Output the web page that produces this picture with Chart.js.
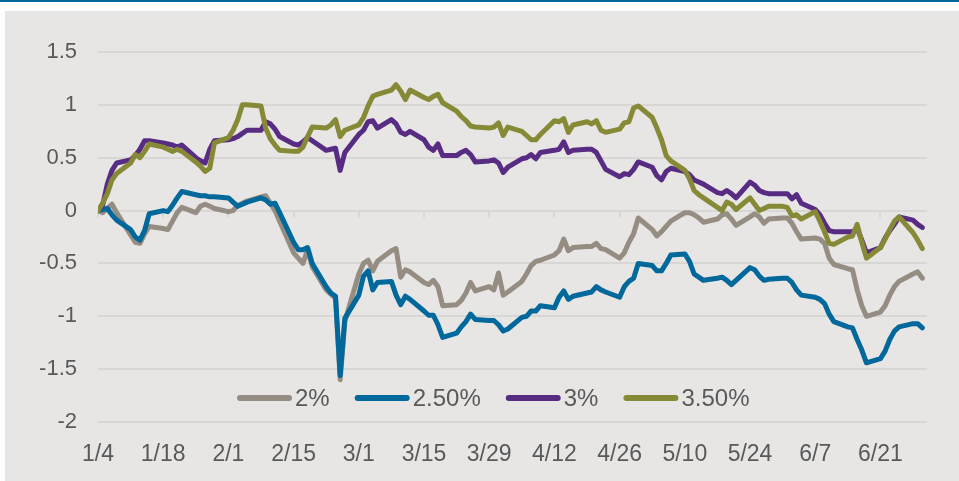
<!DOCTYPE html>
<html>
<head>
<meta charset="utf-8">
<script src="https://cdn.jsdelivr.net/npm/chart.js@4"></script>
<style>
  html, body { margin: 0; padding: 0; background: #ffffff; }
  body { width: 959px; height: 481px; position: relative; overflow: hidden; }
  #topbar { position: absolute; left: 0; top: 0; width: 959px; height: 2px; background: #00689a; }
  #wrap { position: absolute; left: 5px; top: 11px; width: 954px; height: 470px; background: #e7e6e5; }
</style>
</head>
<body>
<div id="topbar"></div>
<div id="wrap"><canvas id="chart"></canvas></div>
<script>
// calendar days since 1/4 (business days only)
const days = [
  0, 1, 2, 3, 4, 7, 8, 9, 10, 11, 14, 15, 16, 17, 18, 21, 22, 23, 24, 25,
  28, 29, 30, 31, 32, 35, 36, 37, 38, 39, 42, 43, 44, 45, 46, 49, 50, 51, 52, 53,
  56, 57, 58, 59, 60, 63, 64, 65, 66, 67, 70, 71, 72, 73, 74, 77, 78, 79, 80, 81,
  84, 85, 86, 87, 88, 91, 92, 93, 94, 95, 98, 99, 100, 101, 102, 105, 106, 107, 108, 109,
  112, 113, 114, 115, 116, 119, 120, 121, 122, 123, 126, 127, 128, 129, 130, 133, 134, 135, 136, 137,
  140, 141, 142, 143, 144, 147, 148, 149, 150, 151, 154, 155, 156, 157, 158, 161, 162, 163, 164, 165,
  168, 169, 170, 171, 172, 175, 176, 177
];

const tickLabels = ['1/4', '1/18', '2/1', '2/15', '3/1', '3/15', '3/29', '4/12', '4/26', '5/10', '5/24', '6/7', '6/21'];
const seriesNames = ['2%', '2.50%', '3%', '3.50%'];

const s2 = [
  0, -0.02, 0.02, 0.06, -0.02, -0.23, -0.30, -0.31, -0.22, -0.15, -0.17, -0.18, -0.10, -0.02, 0.03, -0.02, 0.04, 0.06, 0.04, 0.02,
  -0.01, 0, 0.05, 0.07, 0.09, 0.13, 0.14, 0.07, 0.0, -0.10, -0.40, -0.45, -0.50, -0.37, -0.53, -0.75, -0.79, -0.83, -1.60, -1.05,
  -0.60, -0.50, -0.47, -0.57, -0.48, -0.38, -0.36, -0.63, -0.56, -0.58, -0.68, -0.70, -0.66, -0.72, -0.90, -0.89, -0.85, -0.78, -0.68, -0.76,
  -0.72, -0.75, -0.59, -0.80, -0.77, -0.67, -0.60, -0.52, -0.48, -0.47, -0.42, -0.38, -0.27, -0.38, -0.35, -0.34, -0.34, -0.31, -0.36, -0.37,
  -0.45, -0.40, -0.30, -0.22, -0.07, -0.18, -0.24, -0.20, -0.15, -0.10, -0.02, -0.02, -0.04, -0.07, -0.11, -0.08, -0.04, -0.03, -0.08, -0.14,
  -0.06, -0.03, -0.06, -0.12, -0.08, -0.07, -0.07, -0.12, -0.20, -0.27, -0.26, -0.27, -0.31, -0.45, -0.51, -0.55, -0.56, -0.75, -0.90, -1.00,
  -0.96, -0.90, -0.80, -0.72, -0.67, -0.60, -0.58, -0.64
];

const s25 = [
  0, 0.01, 0.02, -0.04, -0.09, -0.18, -0.25, -0.28, -0.19, -0.03, 0, -0.01, 0.05, 0.12, 0.18, 0.15, 0.14, 0.14, 0.13, 0.13,
  0.12, 0.08, 0.04, 0.06, 0.08, 0.12, 0.10, 0.06, 0.07, -0.02, -0.30, -0.37, -0.37, -0.35, -0.50, -0.72, -0.78, -0.81, -1.56, -1.02,
  -0.80, -0.62, -0.57, -0.75, -0.68, -0.67, -0.80, -0.89, -0.81, -0.84, -0.95, -0.99, -0.99, -1.08, -1.20, -1.16, -1.10, -1.05, -0.98, -1.03,
  -1.04, -1.04, -1.08, -1.14, -1.12, -1.01, -1.00, -0.95, -0.95, -0.90, -0.92, -0.82, -0.76, -0.84, -0.81, -0.78, -0.77, -0.72, -0.75, -0.77,
  -0.82, -0.72, -0.67, -0.64, -0.50, -0.52, -0.57, -0.57, -0.50, -0.42, -0.41, -0.48, -0.60, -0.63, -0.66, -0.64, -0.63, -0.66, -0.70, -0.66,
  -0.54, -0.56, -0.62, -0.66, -0.65, -0.64, -0.64, -0.68, -0.75, -0.80, -0.82, -0.84, -0.88, -0.98, -1.05, -1.10, -1.11, -1.22, -1.32, -1.44,
  -1.40, -1.33, -1.22, -1.14, -1.10, -1.07, -1.07, -1.11
];

const s3 = [
  0, 0.05, 0.25, 0.38, 0.45, 0.48, 0.52, 0.58, 0.66, 0.66, 0.64, 0.63, 0.62, 0.60, 0.62, 0.50, 0.47, 0.45, 0.58, 0.66,
  0.67, 0.68, 0.70, 0.73, 0.76, 0.76, 0.84, 0.82, 0.77, 0.70, 0.63, 0.62, 0.65, 0.69, 0.66, 0.57, 0.58, 0.59, 0.38, 0.55,
  0.72, 0.76, 0.84, 0.85, 0.78, 0.86, 0.82, 0.74, 0.72, 0.75, 0.67, 0.60, 0.57, 0.63, 0.52, 0.52, 0.55, 0.57, 0.53, 0.46,
  0.47, 0.48, 0.45, 0.36, 0.41, 0.49, 0.50, 0.53, 0.49, 0.55, 0.57, 0.58, 0.65, 0.55, 0.57, 0.58, 0.58, 0.55, 0.47, 0.39,
  0.32, 0.35, 0.34, 0.39, 0.46, 0.41, 0.33, 0.29, 0.37, 0.40, 0.37, 0.34, 0.29, 0.27, 0.25, 0.17, 0.16, 0.19, 0.16, 0.12,
  0.27, 0.24, 0.19, 0.17, 0.16, 0.16, 0.16, 0.11, 0.15, 0.07, 0.01, -0.04, -0.12, -0.19, -0.20, -0.20, -0.20, -0.17, -0.28, -0.40,
  -0.35, -0.26, -0.19, -0.13, -0.06, -0.09, -0.13, -0.16
];

const s35 = [
  0, 0.07, 0.16, 0.29, 0.35, 0.45, 0.53, 0.50, 0.56, 0.63, 0.60, 0.58, 0.56, 0.58, 0.56, 0.46, 0.42, 0.37, 0.40, 0.64,
  0.69, 0.76, 0.86, 1.00, 1.00, 0.99, 0.78, 0.68, 0.62, 0.57, 0.56, 0.56, 0.60, 0.70, 0.79, 0.78, 0.81, 0.86, 0.70, 0.76,
  0.81, 0.88, 0.99, 1.08, 1.10, 1.14, 1.19, 1.13, 1.05, 1.14, 1.07, 1.05, 1.08, 1.10, 1.02, 0.94, 0.89, 0.85, 0.80, 0.79,
  0.78, 0.79, 0.83, 0.71, 0.79, 0.75, 0.71, 0.67, 0.67, 0.72, 0.85, 0.84, 0.87, 0.74, 0.81, 0.84, 0.82, 0.85, 0.76, 0.74,
  0.77, 0.83, 0.84, 0.97, 0.99, 0.88, 0.78, 0.67, 0.52, 0.47, 0.38, 0.30, 0.19, 0.15, 0.12, 0.03, 0.0, 0.08, 0.06, 0.01,
  0.12, 0.06, 0.0, 0.02, 0.04, 0.04, 0.03, -0.05, -0.04, -0.08, -0.01, -0.10, -0.20, -0.31, -0.32, -0.25, -0.24, -0.13, -0.30, -0.45,
  -0.35, -0.27, -0.18, -0.10, -0.06, -0.21, -0.28, -0.36
];

const colors = ['#958c82', '#00689a', '#582c83', '#868a36'];
const gridColor = '#d8d7d6';
const textColor = '#595959';
const fontFamily = '"Liberation Sans", Arial, sans-serif';

function toPoints(values) {
  return values.map((v, i) => ({ x: days[i], y: v }));
}

const allSeries = [s2, s25, s3, s35];
const datasets = allSeries.map((vals, i) => ({
  label: seriesNames[i],
  data: toPoints(vals),
  borderColor: colors[i],
  backgroundColor: colors[i],
  borderWidth: 5,
  borderJoinStyle: 'round',
  borderCapStyle: 'round',
  pointRadius: 0,
  tension: 0,
  order: allSeries.length - i
}));

// small tick marks hanging below the zero line
const zeroTicks = {
  id: 'zeroTicks',
  beforeDatasetsDraw(chart) {
    const x = chart.scales.x;
    const y0 = chart.scales.y.getPixelForValue(0);
    const ctx = chart.ctx;
    ctx.save();
    ctx.strokeStyle = gridColor;
    ctx.lineWidth = 2;
    x.ticks.forEach(t => {
      const px = Math.round(x.getPixelForValue(t.value));
      ctx.beginPath();
      ctx.moveTo(px, y0);
      ctx.lineTo(px, y0 + 7);
      ctx.stroke();
    });
    ctx.restore();
  }
};

// legend drawn inside the plot, like the original
const innerLegend = {
  id: 'innerLegend',
  afterDraw(chart) {
    const ctx = chart.ctx;
    const y = chart.chartArea.bottom - 24;
    let x = 232;
    ctx.save();
    ctx.font = '24px ' + fontFamily;
    ctx.textBaseline = 'middle';
    ctx.textAlign = 'left';
    chart.data.datasets.forEach(ds => {
      ctx.strokeStyle = ds.borderColor;
      ctx.lineWidth = 6;
      ctx.lineCap = 'round';
      ctx.beginPath();
      ctx.moveTo(x + 3, y);
      ctx.lineTo(x + 52, y);
      ctx.stroke();
      x += 58;
      ctx.fillStyle = textColor;
      ctx.fillText(ds.label, x, y + 1);
      x += ctx.measureText(ds.label).width + 25;
    });
    ctx.restore();
  }
};

new Chart(document.getElementById('chart'), {
  type: 'line',
  data: { datasets: datasets },
  options: {
    responsive: true,
    maintainAspectRatio: false,
    animation: false,
    layout: { padding: { top: 41, right: 32, left: 0, bottom: 0 } },
    plugins: {
      legend: { display: false },
      tooltip: { enabled: false }
    },
    scales: {
      x: {
        type: 'linear',
        min: 0,
        max: 178,
        grid: { display: false },
        border: { display: false },
        ticks: {
          stepSize: 14,
          includeBounds: false,
          autoSkip: false,
          maxRotation: 0,
          padding: 11,
          color: textColor,
          font: { size: 23, family: fontFamily },
          callback: v => tickLabels[v / 14] || ''
        },
        afterFit: s => { s.height = 59; }
      },
      y: {
        min: -2,
        max: 1.5,
        grid: { color: gridColor, lineWidth: 2, drawTicks: false },
        border: { display: false },
        ticks: {
          stepSize: 0.5,
          padding: 21,
          color: textColor,
          font: { size: 22, family: fontFamily },
          callback: v => String(Math.round(v * 10) / 10)
        },
        afterFit: s => { s.width = 93; }
      }
    }
  },
  plugins: [zeroTicks, innerLegend]
});
</script>
</body>
</html>
